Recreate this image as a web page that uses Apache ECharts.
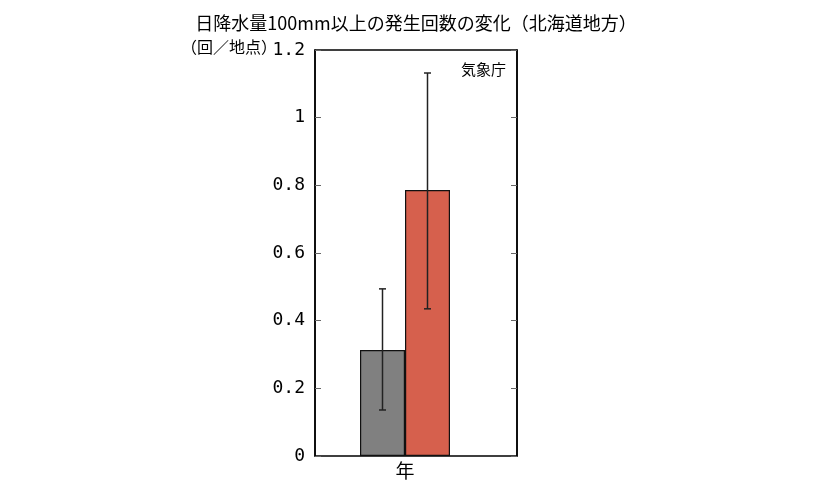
<!DOCTYPE html>
<html>
<head>
<meta charset="utf-8">
<script src="https://cdn.jsdelivr.net/npm/echarts@6/dist/echarts.min.js"></script>
<style>html,body{margin:0;padding:0;background:#fff}#c{width:833px;height:498px}</style>
</head>
<body>
<div id="c"></div>
<script>
const titleText = '日降水量100mm以上の発生回数の変化（北海道地方）';
const unitText = '（回／地点）';
const sourceText = '気象庁';
const categories = ['年'];
const yTicks = [0, 0.2, 0.4, 0.6, 0.8, 1, 1.2];
const seriesNames = ['前期', '後期'];
const meanEarly = [0.313];
const lowEarly = [0.136];
const highEarly = [0.494];
const meanLate = [0.786];
const lowLate = [0.435];
const highLate = [1.132];

const BAR_W = 45;
const chart = echarts.init(document.getElementById('c'));
const fontJP = '"Noto Sans CJK JP", sans-serif';
const fontNum = '"DejaVu Sans Mono", monospace';

const errData = [];
categories.forEach((c, i) => {
  errData.push([i, lowEarly[i], highEarly[i], -1]);
  errData.push([i, lowLate[i], highLate[i], 1]);
});

chart.setOption({
  animation: false,
  title: {
    text: titleText, left: 411, top: 9, textAlign: 'center',
    textStyle: { fontFamily: fontJP, fontSize: 18, fontWeight: 'normal', color: '#000' }
  },
  graphic: [
    { type: 'text', right: 833 - 277, top: 39, style: { text: unitText, font: '16px "Noto Sans CJK JP"', fill: '#000' } },
    { type: 'text', right: 833 - 506, top: 62, style: { text: sourceText, font: '15px "Noto Sans CJK JP"', fill: '#000' } }
  ],
  grid: [
    { left: 315, right: 316, top: 50, bottom: 42, show: true, borderColor: '#000', borderWidth: 1.5, backgroundColor: 'transparent' },
    { left: 315, right: 338, top: 50, bottom: 42 }
  ],
  xAxis: [
    { gridIndex: 0, type: 'value', min: 0, max: 1, show: false },
    { gridIndex: 1, type: 'category', data: categories,
      axisLine: { show: false }, axisTick: { show: false },
      axisLabel: { fontFamily: fontJP, fontSize: 19, color: '#000', margin: 5 } }
  ],
  yAxis: [
    { gridIndex: 0, type: 'value', min: 0, max: 1.2, interval: 0.2, position: 'left',
      axisLine: { show: true, lineStyle: { color: '#000', width: 1.5 } },
      axisTick: { show: true, inside: true, length: 6, lineStyle: { color: '#666', width: 1 } },
      splitLine: { show: false },
      axisLabel: { fontFamily: fontNum, fontSize: 18, color: '#000', margin: 10,
        formatter: v => String(yTicks.find(t => Math.abs(t - v) < 1e-9) ?? v) } },
    { gridIndex: 0, type: 'value', min: 0, max: 1.2, interval: 0.2, position: 'right',
      axisLine: { show: true, lineStyle: { color: '#000', width: 1.5 } },
      axisTick: { show: true, inside: true, length: 6, lineStyle: { color: '#666', width: 1 } },
      splitLine: { show: false }, axisLabel: { show: false } },
    { gridIndex: 1, type: 'value', min: 0, max: 1.2, show: false }
  ],
  series: [
    { name: seriesNames[0], type: 'bar', xAxisIndex: 1, yAxisIndex: 2, data: meanEarly,
      barWidth: BAR_W, barGap: '0%',
      itemStyle: { color: '#808080', borderColor: '#111', borderWidth: 1.2 } },
    { name: seriesNames[1], type: 'bar', xAxisIndex: 1, yAxisIndex: 2, data: meanLate,
      barWidth: BAR_W, barGap: '0%',
      itemStyle: { color: '#D6604D', borderColor: '#111', borderWidth: 1.2 } },
    { type: 'custom', xAxisIndex: 1, yAxisIndex: 2, data: errData, z: 10,
      renderItem: (params, api) => {
        const sign = api.value(3);
        const lo = api.coord([api.value(0), api.value(1)]);
        const hi = api.coord([api.value(0), api.value(2)]);
        const x = lo[0] + sign * BAR_W / 2;
        const cap = 3.5;
        const style = { stroke: '#222', lineWidth: 1.5 };
        return { type: 'group', children: [
          { type: 'line', shape: { x1: x, y1: lo[1], x2: x, y2: hi[1] }, style },
          { type: 'line', shape: { x1: x - cap, y1: lo[1], x2: x + cap, y2: lo[1] }, style },
          { type: 'line', shape: { x1: x - cap, y1: hi[1], x2: x + cap, y2: hi[1] }, style }
        ]};
      }
    }
  ]
});
</script>
</body>
</html>
